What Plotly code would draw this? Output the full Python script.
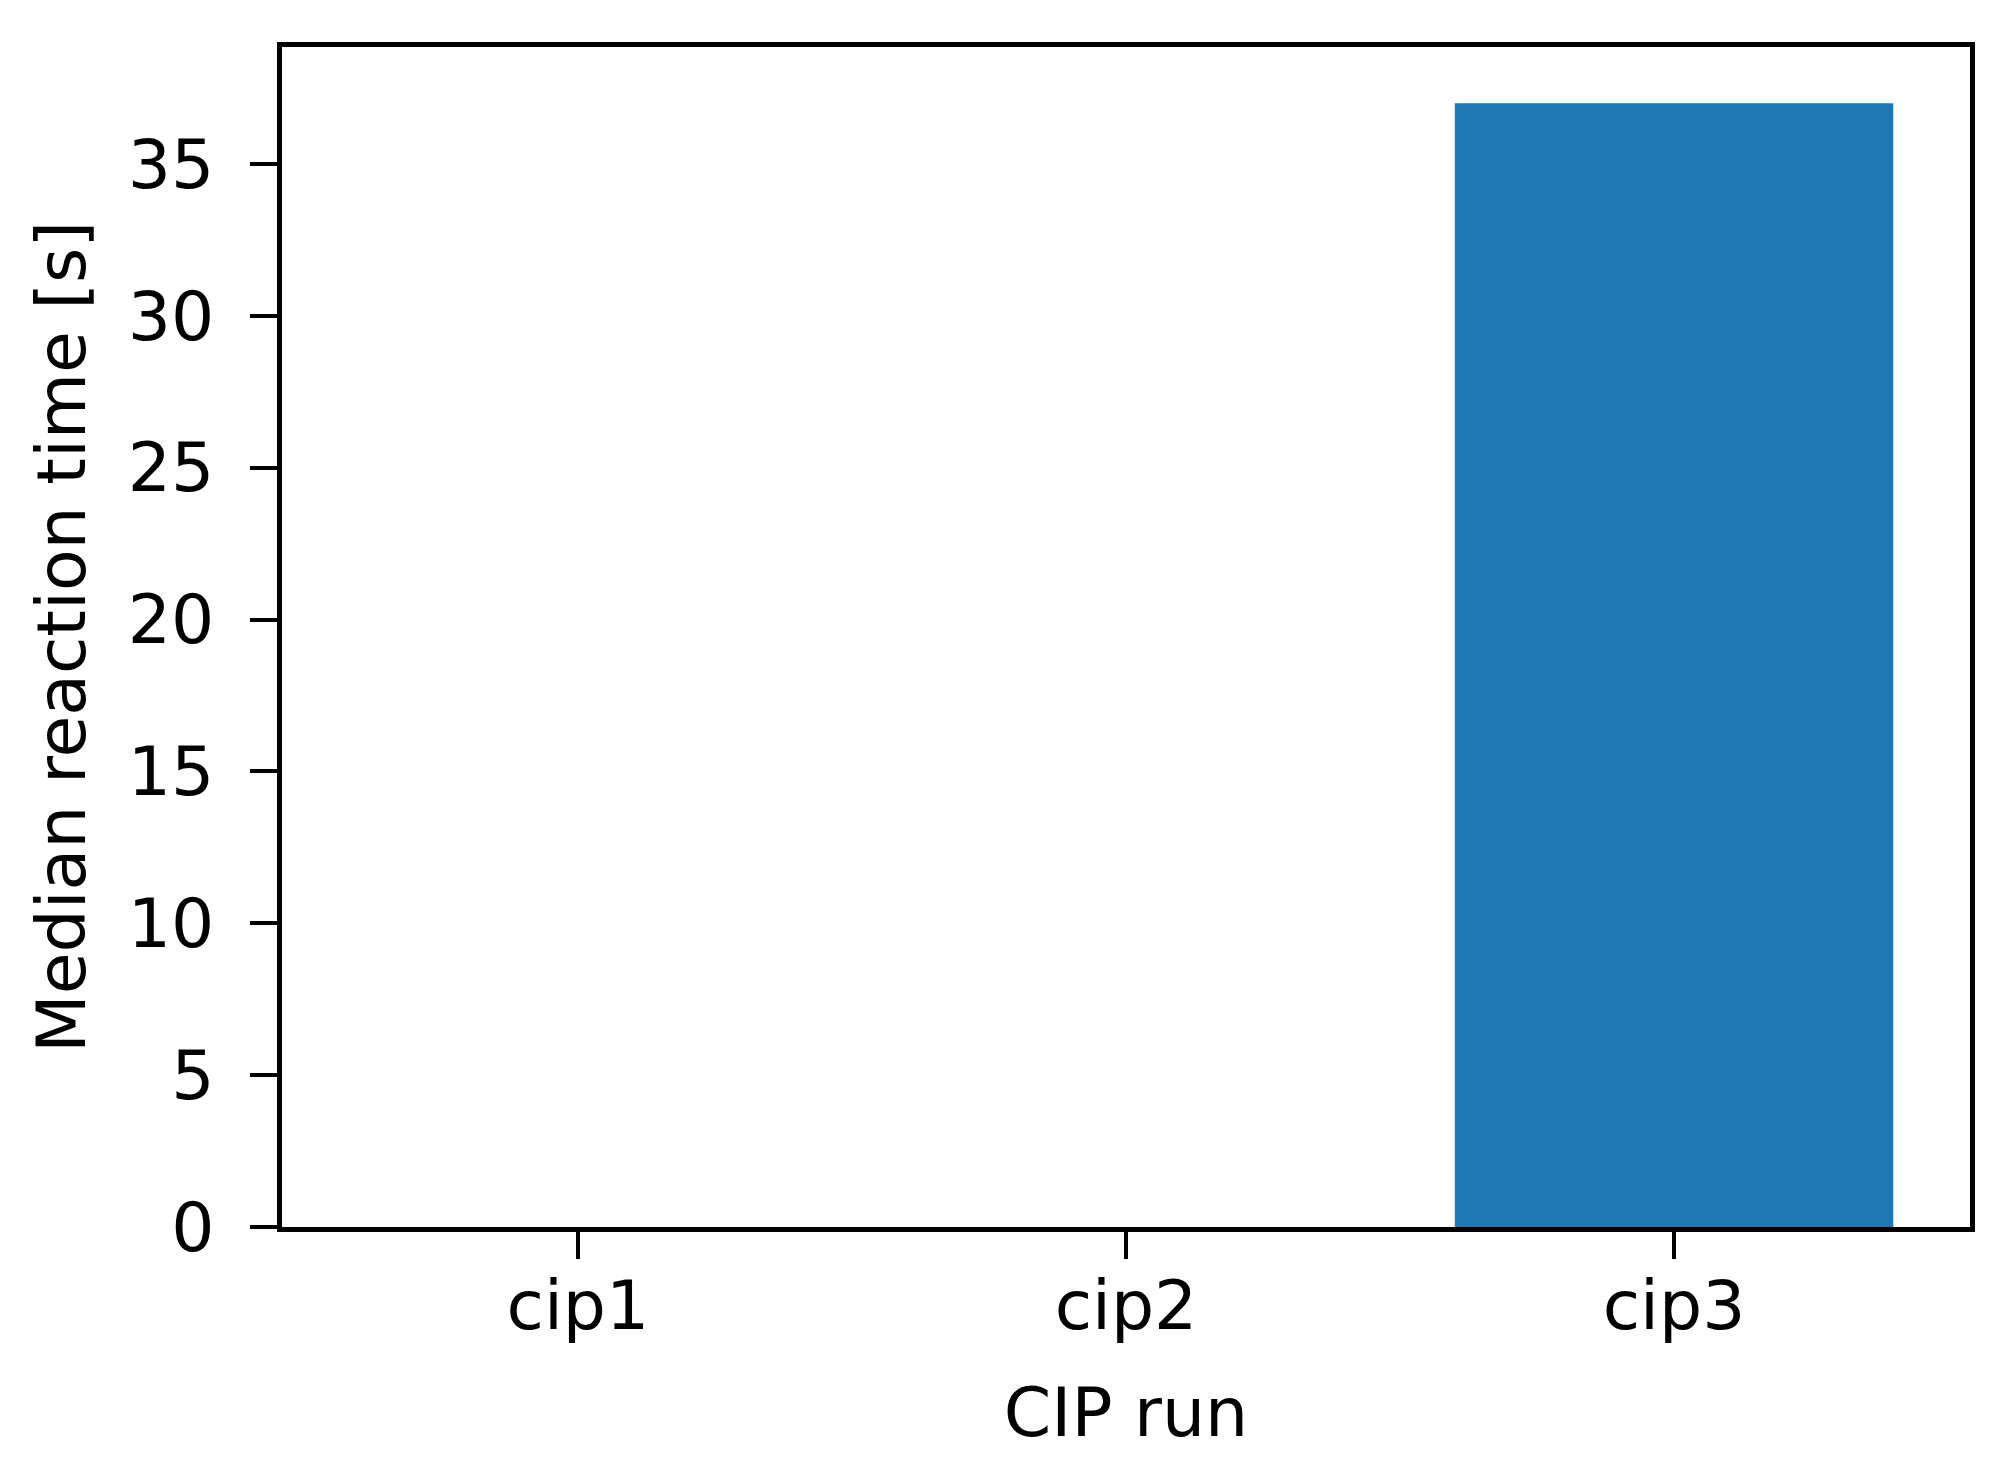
"""Median reaction time per CIP run, as a simple bar chart."""

import plotly.graph_objects as go

# Data
RUNS = ["cip1", "cip2", "cip3"]
MEDIAN_REACTION_S = [0, 0, 37]
Y_TICKS = [0, 5, 10, 15, 20, 25, 30, 35]

BAR_COLOR = "#1f77b4"
FONT = dict(family="DejaVu Sans", size=68, color="#000000")


def build_figure():
    fig = go.Figure()
    fig.add_trace(go.Bar(
        x=RUNS, y=MEDIAN_REACTION_S,
        marker=dict(color=BAR_COLOR, line=dict(width=0)),
        width=0.8,
        hovertemplate="%{x}: %{y} s<extra></extra>",
    ))

    axis_common = dict(
        showline=True, linecolor="black", linewidth=5, mirror=True,
        ticks="outside", ticklen=27, tickwidth=4, tickcolor="black",
        showgrid=False, zeroline=False,
        tickfont=FONT,
    )
    # matplotlib-style limits: 5% padding on x, top padding on y
    top = max(MEDIAN_REACTION_S) * 1.05
    # the page body adds an 8px margin, so the figure is 8px smaller
    fig.update_layout(
        width=1987, height=1454,
        paper_bgcolor="white", plot_bgcolor="white",
        font=FONT,
        showlegend=False,
        margin=dict(l=274, r=25, t=39, b=235, autoexpand=False),
        xaxis=dict(
            **axis_common,
            range=[-0.54, 2.54],
            title=dict(text="CIP run", font=FONT, standoff=46),
            ticklabelstandoff=-12,
        ),
        yaxis=dict(
            **axis_common,
            range=[0, top],
            tickvals=Y_TICKS,
            title=dict(text="Median reaction time [s]", font=FONT, standoff=22),
            ticklabelstandoff=22,
        ),
    )
    return fig


fig = build_figure()
fig.write_html("out.html")
